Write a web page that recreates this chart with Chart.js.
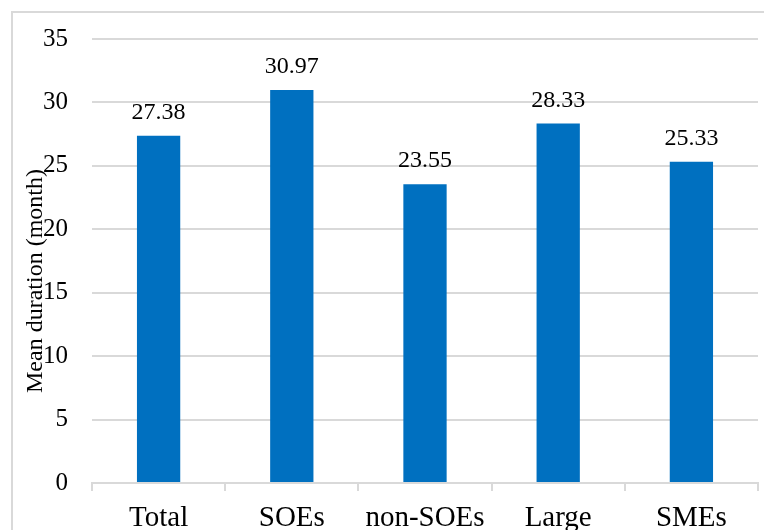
<!DOCTYPE html>
<html>
<head>
<meta charset="utf-8">
<script src="https://cdn.jsdelivr.net/npm/chart.js@4"></script>
<style>
  body { margin: 0; overflow: hidden; background: #fff; }
  #frame { position: absolute; left: 11px; top: 11px; width: 800px; height: 600px; border: 2px solid #d9d9d9; }
  #c { position: absolute; left: 0; top: 0; }
</style>
</head>
<body>
<div id="frame"></div>
<canvas id="c" width="764" height="530"></canvas>
<script>
const categories = ["Total", "SOEs", "non-SOEs", "Large", "SMEs"];
const durations = [27.38, 30.97, 23.55, 28.33, 25.33];
const yTicks = [0, 5, 10, 15, 20, 25, 30, 35];

const serif = "'Liberation Serif', 'Times New Roman', serif";

// value labels above each bar
const barValues = {
    id: 'barValues',
    afterDatasetsDraw(chart) {
        const ctx = chart.ctx;
        ctx.save();
        ctx.font = "24px " + serif;
        ctx.fillStyle = "#000";
        ctx.textAlign = "center";
        ctx.textBaseline = "alphabetic";
        chart.getDatasetMeta(0).data.forEach((bar, i) => {
            ctx.fillText(durations[i].toFixed(2), bar.x, bar.y - 17);
        });
        ctx.restore();
    }
};

// y axis title, sits a bit below the middle like the original
const yTitle = {
    id: 'yTitle',
    afterDraw(chart) {
        const ctx = chart.ctx;
        ctx.save();
        ctx.translate(42, 281);
        ctx.rotate(-Math.PI / 2);
        ctx.font = "24px " + serif;
        ctx.fillStyle = "#000";
        ctx.textAlign = "center";
        ctx.textBaseline = "alphabetic";
        ctx.fillText("Mean duration (month)", 0, 0);
        ctx.restore();
    }
};

new Chart(document.getElementById("c"), {
    type: 'bar',
    data: {
        labels: categories,
        datasets: [{
            data: durations,
            backgroundColor: '#0070C0',
            categoryPercentage: 1,
            barPercentage: 0.325
        }]
    },
    options: {
        responsive: false,
        animation: false,
        layout: { padding: { top: 39, right: 6, left: 0, bottom: 0 } },
        plugins: { legend: { display: false }, tooltip: { enabled: false } },
        scales: {
            x: {
                afterFit(scale) { scale.height = 47; },
                grid: { drawOnChartArea: false, drawTicks: true, tickLength: 8, color: '#d9d9d9', lineWidth: 2 },
                border: { display: true, color: '#d9d9d9', width: 2 },
                ticks: { color: '#000', font: { family: serif, size: 29 }, padding: 10, maxRotation: 0 }
            },
            y: {
                min: 0,
                max: 35,
                afterFit(scale) { scale.width = 92; },
                afterBuildTicks(scale) { scale.ticks = yTicks.map(v => ({ value: v })); },
                grid: { drawTicks: false, color: '#d9d9d9', lineWidth: 2 },
                border: { display: false },
                ticks: { color: '#000', font: { family: serif, size: 25 }, padding: 24 }
            }
        }
    },
    plugins: [barValues, yTitle]
});
</script>
</body>
</html>
